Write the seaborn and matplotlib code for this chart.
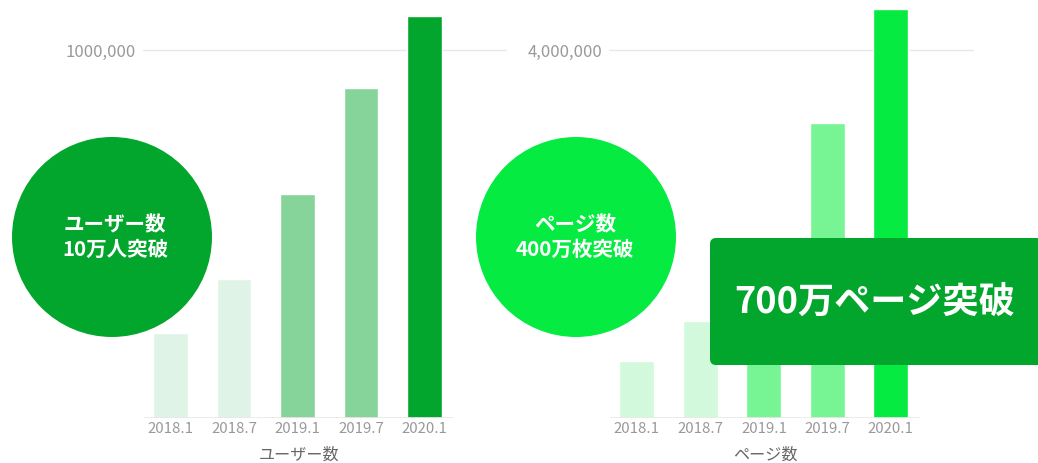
import pandas as pd
import matplotlib.pyplot as plt
import seaborn as sns
from matplotlib.patches import Circle, FancyBboxPatch

# Data
periods = ["2018.1", "2018.7", "2019.1", "2019.7", "2020.1"]
users = [231000, 378000, 609000, 897000, 1092000]
pages = [620000, 1054000, 1700000, 3207000, 4446000]

user_colors = ["#DFF4E6", "#DFF4E6", "#87D49B", "#87D49B", "#03A62C"]
page_colors = ["#D3F9DC", "#D3F9DC", "#77F594", "#77F594", "#06EB41"]

sns.set_style("white")
plt.rcParams["font.family"] = ["Noto Sans CJK JP", "DejaVu Sans"]

W, H = 1038, 463
fig = plt.figure(figsize=(W / 100, H / 100), dpi=100)


def px_axes(x0, x1, y_top, y_bot):
    return fig.add_axes([x0 / W, 1 - y_bot / H, (x1 - x0) / W, (y_bot - y_top) / H])


def draw_panel(ax, values, colors, ymax, ytick, ytick_label, xlim, base_span):
    df = pd.DataFrame({"period": periods, "value": values})
    sns.barplot(data=df, x="period", y="value", hue="period", palette=colors,
                width=0.55, saturation=1, legend=False, ax=ax)
    ax.set_xlim(*xlim)
    ax.set_ylim(0, ymax)
    ax.set_yticks([ytick])
    ax.set_yticklabels([ytick_label])
    ax.yaxis.grid(True, color="#E8E8E8", linewidth=1)
    ax.set_axisbelow(True)
    for s in ax.spines.values():
        s.set_visible(False)
    ax.axhline(0, xmin=base_span[0], xmax=base_span[1], color="#E8E8E8", linewidth=1.2)
    ax.tick_params(axis="y", length=0, pad=5, labelsize=12, labelcolor="#999999")
    ax.tick_params(axis="x", length=0, pad=3, labelsize=10.8, labelcolor="#999999")
    ax.set_xlabel("")
    ax.set_ylabel("")


ax1 = px_axes(143, 507, 5, 418)
draw_panel(ax1, users, user_colors, 1122283, 1000000, "1000,000",
           (-0.433, 5.30), (0.005, 0.852))

ax2 = px_axes(609, 974, 5, 418)
draw_panel(ax2, pages, page_colors, 4489130, 4000000, "4,000,000",
           (-0.44, 5.31), (0.005, 0.849))

# axis titles
fig.text(299 / W, 1 - 455 / H, "ユーザー数", ha="center", va="center",
         fontsize=11.6, color="#666666")
fig.text(765 / W, 1 - 455 / H, "ページ数", ha="center", va="center",
         fontsize=11.6, color="#666666")

# badges
fig.patches.append(Circle((112, H - 237), 100, transform=None,
                          facecolor="#03A62C", edgecolor="none", zorder=5))
fig.patches.append(Circle((576, H - 237), 100, transform=None,
                          facecolor="#06EB41", edgecolor="none", zorder=5))
fig.text(115 / W, 1 - 237 / H, "ユーザー数\n10万人突破", ha="center", va="center",
         fontsize=14.8, fontweight="bold", color="white", linespacing=1.25, zorder=6)
fig.text(575 / W, 1 - 237 / H, "ページ数\n400万枚突破", ha="center", va="center",
         fontsize=14.8, fontweight="bold", color="white", linespacing=1.25, zorder=6)

fig.patches.append(FancyBboxPatch((710, H - 365), 360, 127, transform=None,
                                  boxstyle="round,pad=0,rounding_size=6",
                                  facecolor="#03A62C", edgecolor="none", zorder=5))
fig.text(875 / W, 1 - 302 / H, "700万ページ突破", ha="center", va="center",
         fontsize=26, fontweight="bold", color="white", zorder=6)

fig.savefig("out.png", dpi=100)
